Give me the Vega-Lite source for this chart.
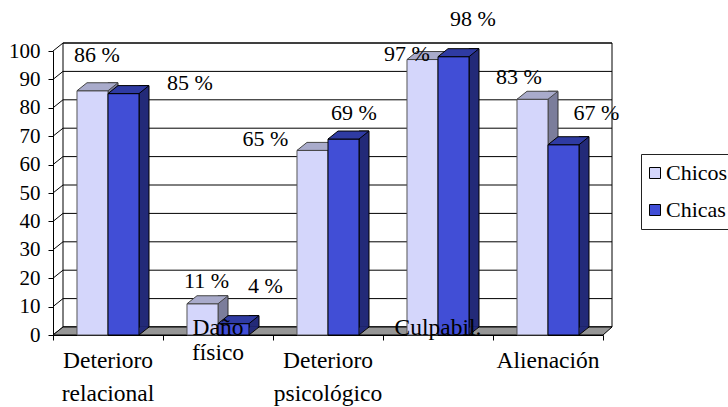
{
"$schema":"https://vega.github.io/schema/vega-lite/v6.json",
"width":550,"height":284,
"autosize":{"type":"none"},
"padding":{"left":53,"top":51,"right":125,"bottom":72},
"background":"white",
"config":{"view":{"stroke":null},"font":"Liberation Serif",
 "axisY":{"labelFont":"Liberation Serif","labelFontSize":21,"labelColor":"black","labelPadding":8,"tickColor":"black","domainColor":"black","tickSize":5,"grid":false,"zindex":1,"values":[0,10,20,30,40,50,60,70,80,90,100]},
 "axisX":{"labels":false,"tickColor":"black","domainColor":"black","tickSize":5,"tickBand":"extent","grid":false,"zindex":1}},
"datasets":{
 "barras":[
  {"categoria":"Deterioro relacional","serie":"Chicos","valor":86,"etiqueta":"86 %"},
  {"categoria":"Deterioro relacional","serie":"Chicas","valor":85,"etiqueta":"85 %"},
  {"categoria":"Daño físico","serie":"Chicos","valor":11,"etiqueta":"11 %"},
  {"categoria":"Daño físico","serie":"Chicas","valor":4,"etiqueta":"4 %"},
  {"categoria":"Deterioro psicológico","serie":"Chicos","valor":65,"etiqueta":"65 %"},
  {"categoria":"Deterioro psicológico","serie":"Chicas","valor":69,"etiqueta":"69 %"},
  {"categoria":"Culpabil.","serie":"Chicos","valor":97,"etiqueta":"97 %"},
  {"categoria":"Culpabil.","serie":"Chicas","valor":98,"etiqueta":"98 %"},
  {"categoria":"Alienación","serie":"Chicos","valor":83,"etiqueta":"83 %"},
  {"categoria":"Alienación","serie":"Chicas","valor":67,"etiqueta":"67 %"}
 ],
 "marcas":[{"marca":0},{"marca":10},{"marca":20},{"marca":30},{"marca":40},{"marca":50},{"marca":60},{"marca":70},{"marca":80},{"marca":90},{"marca":100}],
 "lineas":[
  {"categoria":"Deterioro relacional","texto":"Deterioro","nivel":"b"},
  {"categoria":"Deterioro relacional","texto":"relacional","nivel":"c"},
  {"categoria":"Daño físico","texto":"Daño","nivel":"a"},
  {"categoria":"Daño físico","texto":"físico","nivel":"a2"},
  {"categoria":"Deterioro psicológico","texto":"Deterioro","nivel":"b"},
  {"categoria":"Deterioro psicológico","texto":"psicológico","nivel":"c"},
  {"categoria":"Culpabil.","texto":"Culpabil.","nivel":"a"},
  {"categoria":"Alienación","texto":"Alienación","nivel":"b"}
 ]
},
"layer":[
 {"data":{"name":"marcas"},"transform":[{"filter":"datum.marca==0"}],
  "mark":{"type":"point","shape":"M-265,-8 L-265,-292 L284,-292 L284,-8 Z","size":4,"filled":true,"fill":"white","stroke":"black","strokeWidth":1,"opacity":1},
  "encoding":{"y":{"field":"marca","type":"quantitative","scale":{"domain":[0,100],"nice":false},"axis":{"title":null}}}},
 {"data":{"name":"marcas"},
  "mark":{"type":"point","shape":"M-275,0 L-265,-8 L284,-8","size":4,"filled":false,"stroke":"black","strokeWidth":1,"opacity":1},
  "encoding":{"y":{"field":"marca","type":"quantitative","axis":{"title":null}}}},
 {"data":{"name":"marcas"},"transform":[{"filter":"datum.marca==0"}],
  "mark":{"type":"point","shape":"M-275,0 L-265,-8 L284,-8 L275,0 Z","size":4,"filled":true,"fill":"#969696","stroke":"black","strokeWidth":1,"opacity":1},
  "encoding":{"y":{"field":"marca","type":"quantitative","axis":{"title":null}}}},
 {"data":{"name":"barras"},
  "encoding":{
   "x":{"field":"categoria","type":"nominal","axis":{"title":null},"scale":{"domain":["Deterioro relacional","Daño físico","Deterioro psicológico","Culpabil.","Alienación"],"paddingInner":0,"paddingOuter":0}},
   "xOffset":{"field":"serie","type":"nominal","scale":{"domain":["Chicos","Chicas"],"paddingOuter":0.774,"paddingInner":0}},
   "y":{"field":"valor","type":"quantitative","axis":{"title":null}}
  },
  "layer":[
   {"transform":[{"filter":"datum.serie=='Chicos'"}],"layer":[
    {"mark":{"type":"bar","width":10,"xOffset":5,"yOffset":-8,"y2Offset":-8,"fill":"#7b7d9b","stroke":"#333","strokeWidth":1},"encoding":{"xOffset":null}},
    {"mark":{"type":"point","shape":"M15.5,0 L25,-8 L25,-8.7 L16,-8.7 Z","size":4,"filled":true,"fill":"#7b7d9b","strokeWidth":0,"opacity":1},"encoding":{"y":{"datum":0,"type":"quantitative","axis":{"title":null}}}},
    {"mark":{"type":"bar","stroke":"#555","strokeWidth":1},"encoding":{"color":{"field":"serie","type":"nominal","scale":{"domain":["Chicos","Chicas"],"range":["#d4d6fb","#414ed6"]},"legend":{"orient":"none","legendX":588,"legendY":103,"title":null,"symbolType":"square","symbolSize":121,"symbolOffset":-5,"symbolStrokeColor":"#111","symbolStrokeWidth":1,"labelFont":"Liberation Serif","labelFontSize":22,"labelColor":"black","labelOffset":0,"labelLimit":200,"rowPadding":15,"padding":8,"strokeColor":"#222","fillColor":"white"}}}},
    {"mark":{"type":"point","shape":"M-15.5,0 L-5.5,-8 L25.5,-8 L15.5,0 Z","size":4,"filled":true,"fill":"#a9abcb","stroke":"#444","strokeWidth":1,"opacity":1}}
   ]},
   {"transform":[{"filter":"datum.serie=='Chicas'"}],"layer":[
    {"mark":{"type":"bar","width":10,"xOffset":36,"yOffset":-8,"y2Offset":-8,"fill":"#232a78","stroke":"black","strokeWidth":1},"encoding":{"xOffset":null}},
    {"mark":{"type":"point","shape":"M15.5,0 L25,-8 L25,-8.7 L16,-8.7 Z","size":4,"filled":true,"fill":"#232a78","strokeWidth":0,"opacity":1},"encoding":{"y":{"datum":0,"type":"quantitative","axis":{"title":null}}}},
    {"mark":{"type":"point","shape":"M15.5,0 L25.5,-8","size":4,"filled":false,"stroke":"black","strokeWidth":1,"opacity":1},"encoding":{"y":{"datum":0,"type":"quantitative","axis":{"title":null}}}},
    {"mark":{"type":"bar","stroke":"black","strokeWidth":1},"encoding":{"color":{"field":"serie","type":"nominal"}}},
    {"mark":{"type":"point","shape":"M-15.5,0 L-5.5,-8 L25.5,-8 L15.5,0 Z","size":4,"filled":true,"fill":"#2f3ba3","stroke":"black","strokeWidth":1,"opacity":1}}
   ]},
   {"encoding":{"text":{"field":"etiqueta"}},"layer":[
    {"transform":[{"filter":"datum.etiqueta=='86 %'"}],"mark":{"type":"text","dx":4.5,"dy":-36,"fontSize":22,"font":"Liberation Serif","color":"black","baseline":"middle"}},
    {"transform":[{"filter":"datum.etiqueta=='85 %'"}],"mark":{"type":"text","dx":66.5,"dy":-10.6,"fontSize":22,"font":"Liberation Serif","color":"black","baseline":"middle"}},
    {"transform":[{"filter":"datum.etiqueta=='11 %'"}],"mark":{"type":"text","dx":4,"dy":-23,"fontSize":22,"font":"Liberation Serif","color":"black","baseline":"middle"}},
    {"transform":[{"filter":"datum.etiqueta=='4 %'"}],"mark":{"type":"text","dx":32,"dy":-38,"fontSize":22,"font":"Liberation Serif","color":"black","baseline":"middle"}},
    {"transform":[{"filter":"datum.etiqueta=='65 %'"}],"mark":{"type":"text","dx":-47,"dy":-11,"fontSize":22,"font":"Liberation Serif","color":"black","baseline":"middle"}},
    {"transform":[{"filter":"datum.etiqueta=='69 %'"}],"mark":{"type":"text","dx":10.5,"dy":-26,"fontSize":22,"font":"Liberation Serif","color":"black","baseline":"middle"}},
    {"transform":[{"filter":"datum.etiqueta=='97 %'"}],"mark":{"type":"text","dx":-15.5,"dy":-5.5,"fontSize":22,"font":"Liberation Serif","color":"black","baseline":"middle"}},
    {"transform":[{"filter":"datum.etiqueta=='98 %'"}],"mark":{"type":"text","dx":19.5,"dy":-37.7,"fontSize":22,"font":"Liberation Serif","color":"black","baseline":"middle"}},
    {"transform":[{"filter":"datum.etiqueta=='83 %'"}],"mark":{"type":"text","dx":-13.5,"dy":-22.6,"fontSize":22,"font":"Liberation Serif","color":"black","baseline":"middle"}},
    {"transform":[{"filter":"datum.etiqueta=='67 %'"}],"mark":{"type":"text","dx":33,"dy":-32,"fontSize":22,"font":"Liberation Serif","color":"black","baseline":"middle"}}
   ]}
  ]},
 {"data":{"name":"lineas"},
  "encoding":{
   "x":{"field":"categoria","type":"nominal","axis":{"title":null}},
   "y":{"datum":0,"type":"quantitative","axis":{"title":null}},
   "text":{"field":"texto"}
  },
  "layer":[
   {"transform":[{"filter":"datum.nivel=='a'"}],"mark":{"type":"text","dy":-7,"fontSize":23.5,"font":"Liberation Serif","color":"black","baseline":"middle"}},
   {"transform":[{"filter":"datum.nivel=='a2'"}],"mark":{"type":"text","dy":18,"fontSize":23.5,"font":"Liberation Serif","color":"black","baseline":"middle"}},
   {"transform":[{"filter":"datum.nivel=='b'"}],"mark":{"type":"text","dy":26,"fontSize":23.5,"font":"Liberation Serif","color":"black","baseline":"middle"}},
   {"transform":[{"filter":"datum.nivel=='c'"}],"mark":{"type":"text","dy":59,"fontSize":23.5,"font":"Liberation Serif","color":"black","baseline":"middle"}}
  ]}
]
}
